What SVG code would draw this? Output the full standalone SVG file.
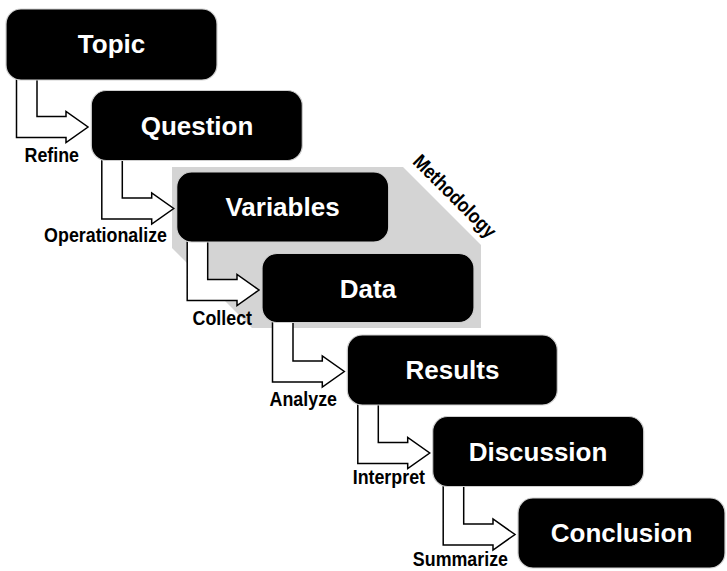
<svg xmlns="http://www.w3.org/2000/svg" width="727" height="571" viewBox="0 0 727 571">
  <style>
    .box { fill: #000; stroke: #cfcfcf; stroke-width: 1.2; }
    .title { font-family: "Liberation Sans", Arial, sans-serif; font-weight: bold; font-size: 26px; fill: #fff; text-anchor: middle; }
    .step { fill: #fff; stroke: #000; stroke-width: 1.5; stroke-linejoin: miter; }
    .lbl { font-family: "Liberation Sans", Arial, sans-serif; font-weight: bold; font-size: 21px; fill: #000; text-anchor: end; }
    .phase { font-family: "Liberation Sans", Arial, sans-serif; font-weight: bold; font-size: 20px; fill: #000; text-anchor: middle; }
  </style>
  <rect width="727" height="571" fill="#fff"/>

  <!-- methodology band -->
  <g id="methodology">
    <polygon points="172,167 403,167 481,245 481,328 252,328 172,248" fill="#d4d4d4"/>
    <text class="phase" transform="translate(450,201) rotate(45) scale(0.87,1)">Methodology</text>
  </g>

  <!-- bent step arrows -->
  <g id="connectors">
    <path class="step" d="M16.5,77 V137.5 H66 V142.5 L88,127 L66,111.5 V116.5 H37 V77"/>
    <path class="step" d="M101.8,158.5 V219 H151.7 V224 L173.7,208.5 L151.7,193 V198 H122.3 V158.5"/>
    <path class="step" d="M187.2,240 V300.5 H237 V305.5 L259,290 L237,274.5 V279.5 H207.7 V240"/>
    <path class="step" d="M272.5,321.5 V382 H322.3 V387 L344.3,371.5 L322.3,356 V361 H293 V321.5"/>
    <path class="step" d="M357.8,403 V463.5 H407.7 V468.5 L429.7,453 L407.7,437.5 V442.5 H378.3 V403"/>
    <path class="step" d="M443.2,484.5 V545 H493 V550 L515,534.5 L493,519 V524 H463.7 V484.5"/>
  </g>

  <g id="topic">
    <rect class="box" x="6" y="9" width="211" height="71" rx="15"/>
    <text class="title" x="111.5" y="53">Topic</text>
  </g>
  <g id="question">
    <rect class="box" x="91.3" y="90.5" width="211" height="70" rx="15"/>
    <text class="title" x="197" y="134.5">Question</text>
  </g>
  <g id="variables">
    <rect class="box" x="176.7" y="172" width="212" height="70" rx="15"/>
    <text class="title" x="282.5" y="216">Variables</text>
  </g>
  <g id="data">
    <rect class="box" x="262" y="253.5" width="212" height="69" rx="15"/>
    <text class="title" x="368" y="297.5">Data</text>
  </g>
  <g id="results">
    <rect class="box" x="347.3" y="335" width="210" height="70" rx="15"/>
    <text class="title" x="452.5" y="379">Results</text>
  </g>
  <g id="discussion">
    <rect class="box" x="432.7" y="416.5" width="211" height="70" rx="15"/>
    <text class="title" x="538" y="460.5">Discussion</text>
  </g>
  <g id="conclusion">
    <rect class="box" x="518" y="498" width="207" height="70" rx="15"/>
    <text class="title" x="621.5" y="542">Conclusion</text>
  </g>

  <!-- step labels -->
  <g id="labels">
    <text class="lbl" transform="translate(79,162) scale(0.85,1)">Refine</text>
    <text class="lbl" transform="translate(167,242) scale(0.85,1)">Operationalize</text>
    <text class="lbl" transform="translate(252,325) scale(0.85,1)">Collect</text>
    <text class="lbl" transform="translate(337,406) scale(0.85,1)">Analyze</text>
    <text class="lbl" transform="translate(425,484) scale(0.85,1)">Interpret</text>
    <text class="lbl" transform="translate(508,566) scale(0.85,1)">Summarize</text>
  </g>
</svg>
